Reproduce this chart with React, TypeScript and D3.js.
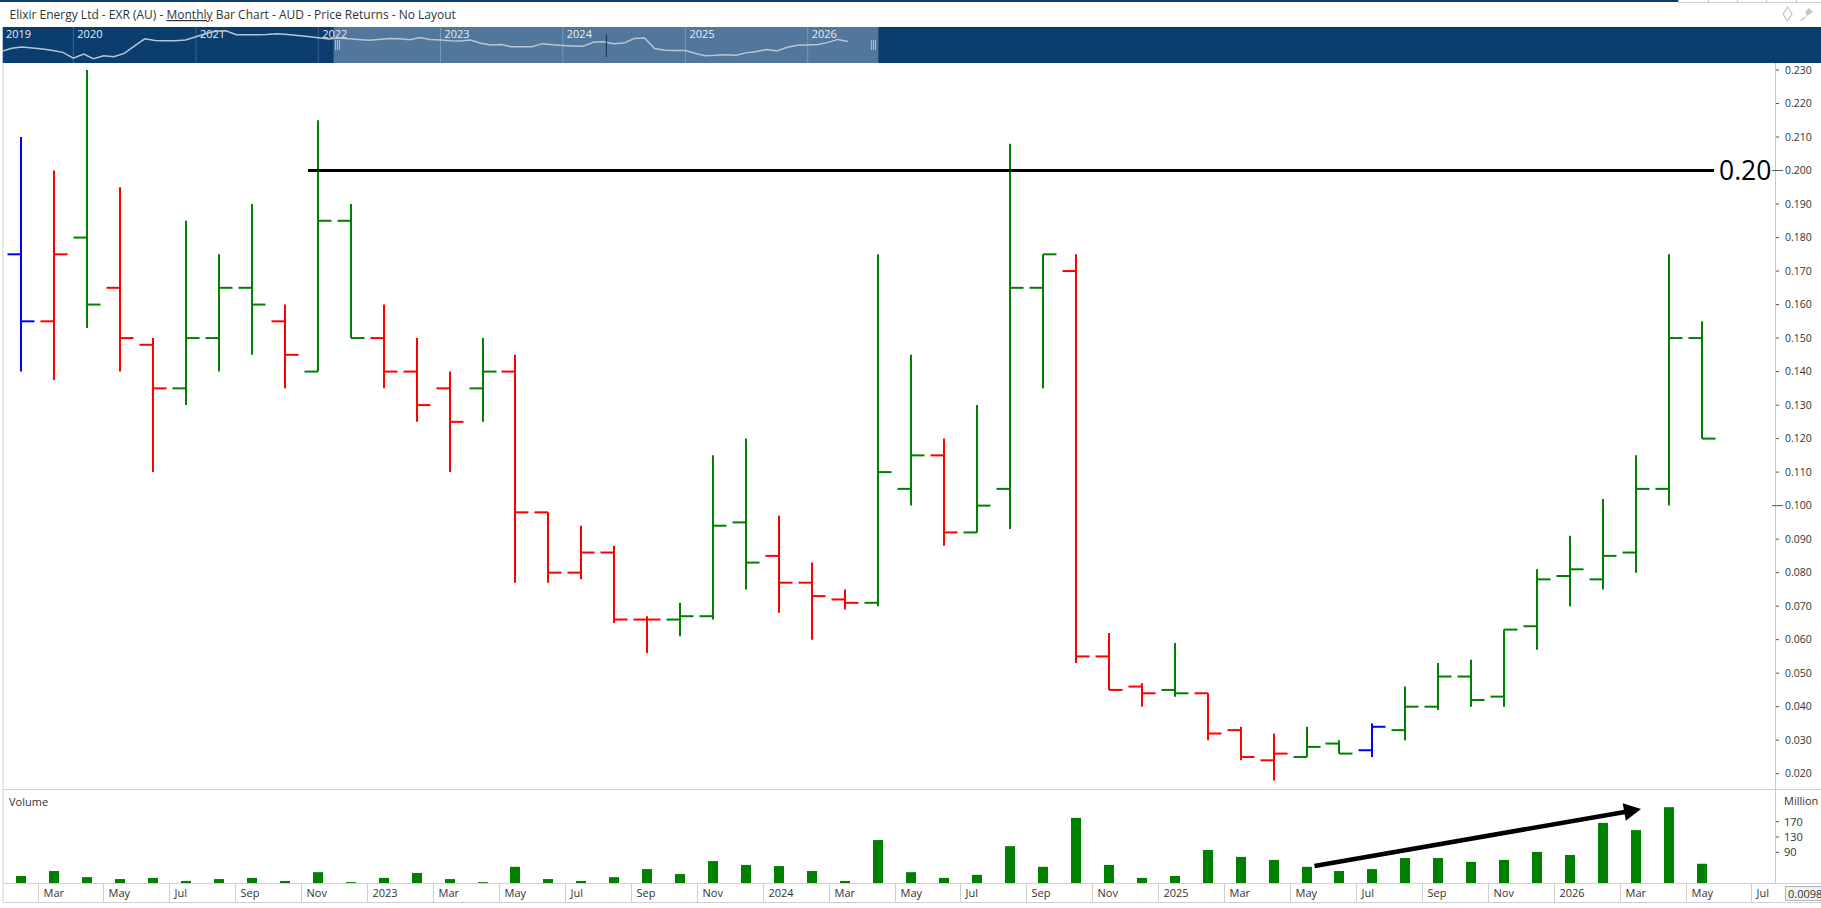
import React from 'react';
import * as d3 from 'd3';

// ---------- DATA ----------
const months = [
  '2022-02','2022-03','2022-04','2022-05','2022-06','2022-07','2022-08','2022-09','2022-10','2022-11','2022-12',
  '2023-01','2023-02','2023-03','2023-04','2023-05','2023-06','2023-07','2023-08','2023-09','2023-10','2023-11','2023-12',
  '2024-01','2024-02','2024-03','2024-04','2024-05','2024-06','2024-07','2024-08','2024-09','2024-10','2024-11','2024-12',
  '2025-01','2025-02','2025-03','2025-04','2025-05','2025-06','2025-07','2025-08','2025-09','2025-10','2025-11','2025-12',
  '2026-01','2026-02','2026-03','2026-04','2026-05',
];
const axisExtraMonths = ['2026-06', '2026-07'];

const opens = [
  0.175,0.155,0.180,0.165,0.148,0.135,0.150,0.165,0.155,0.140,0.185,
  0.150,0.140,0.135,0.135,0.140,0.098,0.080,0.086,0.066,0.066,0.067,0.095,
  0.085,0.077,0.072,0.071,0.105,0.115,0.092,0.105,0.165,0.170,0.055,0.046,
  0.045,0.044,0.033,0.024,0.025,0.029,0.027,0.033,0.040,0.049,0.043,0.064,
  0.079,0.078,0.086,0.105,0.150,
];
const highs = [
  0.210,0.200,0.230,0.195,0.150,0.185,0.175,0.190,0.160,0.215,0.190,
  0.160,0.150,0.140,0.150,0.145,0.098,0.094,0.088,0.067,0.071,0.115,0.120,
  0.097,0.083,0.075,0.175,0.145,0.120,0.130,0.208,0.175,0.175,0.062,0.047,
  0.059,0.044,0.034,0.032,0.034,0.030,0.035,0.046,0.053,0.054,0.063,0.081,
  0.091,0.102,0.115,0.175,0.155,
];
const lows = [
  0.140,0.1375,0.153,0.140,0.110,0.130,0.140,0.145,0.135,0.140,0.150,
  0.135,0.125,0.110,0.125,0.077,0.077,0.078,0.065,0.056,0.061,0.066,0.075,
  0.068,0.060,0.069,0.070,0.100,0.088,0.092,0.093,0.135,0.053,0.045,0.040,
  0.043,0.030,0.024,0.018,0.025,0.026,0.025,0.030,0.039,0.040,0.040,0.057,
  0.070,0.075,0.080,0.100,0.120,
];
const closes = [
  0.155,0.175,0.160,0.150,0.135,0.150,0.165,0.160,0.145,0.185,0.150,
  0.140,0.130,0.125,0.140,0.098,0.080,0.086,0.066,0.066,0.067,0.094,0.083,
  0.077,0.073,0.071,0.110,0.115,0.092,0.100,0.165,0.175,0.055,0.045,0.044,
  0.044,0.032,0.025,0.026,0.028,0.026,0.034,0.040,0.049,0.042,0.063,0.078,
  0.081,0.085,0.105,0.150,0.120,
];
// bar colour class as shown by the platform
const barDirection = [
  'flat','down','up','down','down','up','up','up','down','up','up',
  'down','down','down','up','down','down','down','down','down','up','up','up',
  'down','down','down','up','up','down','up','up','up','down','down','down',
  'up','down','down','down','up','up','flat','up','up','up','up','up',
  'up','up','up','up','up',
];
// volume in millions
const volumes = [
  28,41,25,20,23,15,20,23,15,38,12,
  23,36,20,12,52,20,15,25,46,33,67,57,
  54,41,15,122,38,23,31,106,52,180,57,23,
  28,96,78,70,52,41,46,75,75,65,70,91,
  83,167,148,208,60,
];

const priceTicks = [0.02,0.03,0.04,0.05,0.06,0.07,0.08,0.09,0.10,0.11,0.12,0.13,0.14,0.15,0.16,0.17,0.18,0.19,0.20,0.21,0.22,0.23];
const volumeTicks = [90, 130, 170];

// navigator history before the visible window
const navPreMonths = [
  '2019-06','2019-07','2019-08','2019-09','2019-10','2019-11','2019-12',
  '2020-01','2020-02','2020-03','2020-04','2020-05','2020-06','2020-07','2020-08','2020-09','2020-10','2020-11','2020-12',
  '2021-01','2021-02','2021-03','2021-04','2021-05','2021-06','2021-07','2021-08','2021-09','2021-10','2021-11','2021-12',
  '2022-01',
];
const navPreCloses = [
  0.040,0.056,0.065,0.058,0.052,0.044,0.036,
  0.019,0.030,0.018,0.025,0.022,0.032,0.072,0.160,0.133,0.130,0.130,0.142,
  0.200,0.290,0.370,0.390,0.252,0.252,0.252,0.260,0.280,0.257,0.232,0.205,
  0.180,
];
const navYears = ['2019','2020','2021','2022','2023','2024','2025','2026'];

const titleParts = ['Elixir Energy Ltd - EXR (AU) - ', 'Monthly', ' Bar Chart - AUD - Price Returns - No Layout'];
const resistanceLevel = 0.2;
const resistanceLabel = '0.20';
const resistanceFrom = '2022-11';
const resistanceTo = '2026-05';
const arrowFrom = { month: '2025-05', vol: 54 };
const arrowTo = { month: '2026-03', vol: 203 };
const bottomBoxText = '0.0098';

// ---------- LAYOUT ----------
const W = 1821, H = 908;
const FONT = "'Open Sans', 'Noto Sans', sans-serif";
const plotLeft = 3, axisX = 1775;
const plotTop = 63, sepY = 789, volBottom = 883, stripBottom = 902;
const colors: Record<string, string> = { up: '#008000', down: '#ff0000', flat: '#0000ff' };
const NAVY = '#0b3d6f', NAVY_SEL = '#52779c';

const allMonths = [...months, ...axisExtraMonths];
const x = d3.scaleBand<string>().domain(allMonths).range([4.6, 4.6 + allMonths.length * 32.96]).padding(0);
const cx = (m: string) => Math.round((x(m) as number) + x.bandwidth() / 2);
const y = d3.scaleLinear().domain([0.02, 0.23]).range([773.7, 70]);
const yv = d3.scaleLinear().domain([0, 170]).range([886.7, 821.7]);

const parseM = d3.timeParse('%Y-%m');
const navX = d3.scaleTime().domain([new Date(2020, 0, 1), new Date(2026, 0, 1)]).range([73.3, 807.7]);
const navY = d3.scaleLog().domain([0.175, 0.026]).range([38, 55.3]);
const navData = [
  ...navPreMonths.map((m, i) => ({ d: parseM(m) as Date, v: navPreCloses[i] })),
  ...months.map((m, i) => ({ d: parseM(m) as Date, v: closes[i] })),
];
const navLine = d3.line<{ d: Date; v: number }>().x(p => navX(p.d)).y(p => navY(p.v));
const monthName = d3.timeFormat('%b');

export default function App() {
  const tick = 13.5;
  const resY = y(resistanceLevel);
  const a0 = { x: cx(arrowFrom.month) + 7.5, y: yv(arrowFrom.vol) };
  const a1 = { x: cx(arrowTo.month) + 5, y: yv(arrowTo.vol) };
  const dx = a1.x - a0.x, dy = a1.y - a0.y;
  const len = Math.hypot(dx, dy);
  const ux = dx / len, uy = dy / len;
  const nx = -uy, ny = ux;
  const headL = 17, headW = 9;
  const hb = { x: a1.x - ux * headL, y: a1.y - uy * headL };
  const head = `${a1.x},${a1.y} ${hb.x + nx * headW},${hb.y + ny * headW} ${hb.x - nx * headW},${hb.y - ny * headW}`;

  const selStart = navX(new Date(2022, 1, 16));
  const selEnd = navX(new Date(2026, 6, 31));

  const labelMonths = allMonths.filter(m => (parseM(m) as Date).getMonth() % 2 === 0);

  return (
    <svg width={W} height={H} viewBox={`0 0 ${W} ${H}`} style={{ position: 'absolute', left: 0, top: 0, display: 'block', background: '#fff' }} fontFamily={FONT}>
      <defs>
        <clipPath id="plotClip"><rect x={plotLeft} y={plotTop} width={axisX - plotLeft} height={sepY - plotTop} /></clipPath>
        <clipPath id="volClip"><rect x={plotLeft} y={sepY} width={axisX - plotLeft} height={volBottom - sepY} /></clipPath>
        <clipPath id="navClip"><rect x={2.7} y={27} width={W - 2.7} height={36} /></clipPath>
      </defs>
      <rect x={0} y={0} width={W} height={H} fill="#fff" />

      {/* top strip */}
      <rect x={0} y={0} width={1678} height={2} fill={NAVY} />
      <line x1={1678} x2={W} y1={2.5} y2={2.5} stroke="#d0d0d0" />
      {[1678, 1708, 1737, 1766, 1796].map(v => (
        <line key={v} x1={v + 0.5} x2={v + 0.5} y1={0} y2={3} stroke="#c8c8c8" />
      ))}

      {/* title */}
      <text x={9.5} y={19} fontSize={12} fill="#333">
        <tspan>{titleParts[0]}</tspan>
        <tspan textDecoration="underline">{titleParts[1]}</tspan>
        <tspan>{titleParts[2]}</tspan>
      </text>
      {/* icons */}
      <path d="M1787.5,7 L1792,14 L1787.5,21 L1783,14 Z" fill="none" stroke="#c4c4c4" strokeWidth={1.2} />
      <g fill="#c4c4c4">
        <path d="M1803,19 L1807,15 L1805,12 L1809,8 L1813,12 L1810,14 L1807,16 Z" />
        <line x1={1801} y1={21} x2={1805} y2={17} stroke="#c4c4c4" strokeWidth={1.2} />
      </g>

      {/* navigator */}
      <rect x={2.7} y={27} width={W - 2.7} height={36} fill={NAVY} />
      <rect x={selStart} y={27} width={selEnd - selStart} height={36} fill={NAVY_SEL} />
      {navYears.map(yr => {
        const xx = navX(new Date(+yr, 0, 1));
        const inSel = xx > selStart && xx < selEnd;
        return (
          <g key={yr}>
            {xx > 3 && <line x1={xx} x2={xx} y1={27} y2={63} stroke={inSel ? '#7b97b6' : '#3a6591'} strokeWidth={1} />}
            <text x={Math.max(xx + 4, 6)} y={38} fontSize={11} fill="#e6edf5">{yr}</text>
          </g>
        );
      })}
      <path d={navLine(navData) as string} fill="none" stroke="#b9c5d3" strokeWidth={1.5} clipPath="url(#navClip)" />
      <line x1={navX(new Date(2024, 4, 10))} x2={navX(new Date(2024, 4, 10))} y1={34} y2={57} stroke="#1c2d40" strokeWidth={1} />
      {[selStart + 2, selEnd - 7].map((hx, k) => (
        <g key={k} stroke="#c9d2dc" strokeWidth={0.8}>
          {[0, 2, 4].map(o => <line key={o} x1={hx + o} x2={hx + o} y1={40} y2={50} />)}
        </g>
      ))}

      {/* frame lines */}
      <line x1={plotLeft} x2={plotLeft} y1={plotTop} y2={stripBottom} stroke="#cfcfcf" />
      <line x1={axisX + 0.5} x2={axisX + 0.5} y1={plotTop} y2={volBottom} stroke="#c8c8c8" />
      <line x1={plotLeft} x2={W} y1={sepY + 0.5} y2={sepY + 0.5} stroke="#cfcfcf" />
      <line x1={plotLeft} x2={W} y1={volBottom + 0.5} y2={volBottom + 0.5} stroke="#cfcfcf" />
      <line x1={plotLeft} x2={W} y1={stripBottom + 0.5} y2={stripBottom + 0.5} stroke="#cfcfcf" />

      {/* price bars */}
      <g clipPath="url(#plotClip)" strokeWidth={2}>
        {months.map((m, i) => {
          const c = cx(m);
          const col = colors[barDirection[i]];
          return (
            <g key={m} stroke={col}>
              <line x1={c} x2={c} y1={y(highs[i])} y2={y(lows[i])} />
              <line x1={c - tick} x2={c} y1={y(opens[i])} y2={y(opens[i])} />
              <line x1={c} x2={c + tick} y1={y(closes[i])} y2={y(closes[i])} />
            </g>
          );
        })}
        <line x1={cx(resistanceFrom) - 10} x2={cx(resistanceTo) + 12} y1={resY} y2={resY} stroke="#000" strokeWidth={3} />
      </g>
      <text x={cx(resistanceTo) + 17} y={resY} dy="0.36em" fontSize={26.5} fill="#000">{resistanceLabel}</text>

      {/* price axis */}
      {priceTicks.map(t => {
        const major = Math.abs((t * 10) - Math.round(t * 10)) < 1e-9;
        return (
          <g key={t}>
            <line x1={major ? 1772 : 1776} x2={major ? 1783 : 1779} y1={y(t)} y2={y(t)} stroke="#555" strokeWidth={1} />
            <text x={1785} y={y(t)} dy="0.35em" fontSize={10.5} fill="#333">{d3.format('.3f')(t)}</text>
          </g>
        );
      })}

      {/* volume panel */}
      <text x={9} y={806} fontSize={11} fill="#333">Volume</text>
      <text x={1784} y={805} fontSize={11} fill="#333">Million</text>
      <g clipPath="url(#volClip)">
        {months.map((m, i) => (
          <rect key={m} x={cx(m) - 5} y={yv(volumes[i])} width={10} height={yv(0) - yv(volumes[i])} fill="#008000" />
        ))}
      </g>
      {volumeTicks.map(t => (
        <g key={t}>
          <line x1={1776} x2={1779} y1={yv(t)} y2={yv(t)} stroke="#555" />
          <text x={1784} y={yv(t)} dy="0.35em" fontSize={11} fill="#333">{t}</text>
        </g>
      ))}
      <line x1={a0.x} y1={a0.y} x2={hb.x + ux * 2} y2={hb.y + uy * 2} stroke="#000" strokeWidth={4.5} />
      <polygon points={head} fill="#000" />

      {/* bottom month axis */}
      {labelMonths.map(m => {
        const d = parseM(m) as Date;
        const gx = Math.round(x(m) as number) + 0.5;
        if (gx > axisX + 2) return null;
        const lbl = d.getMonth() === 0 ? String(d.getFullYear()) : monthName(d);
        return (
          <g key={m}>
            <line x1={gx} x2={gx} y1={volBottom} y2={stripBottom} stroke="#cfcfcf" />
            <text x={gx + 5} y={897} fontSize={11} fill="#333">{lbl}</text>
          </g>
        );
      })}
      <rect x={1785.5} y={886.5} width={40} height={14} fill="#f2f2f2" stroke="#b5b5b5" />
      <text x={1788} y={897.5} fontSize={11} fill="#333">{bottomBoxText}</text>
    </svg>
  );
}
